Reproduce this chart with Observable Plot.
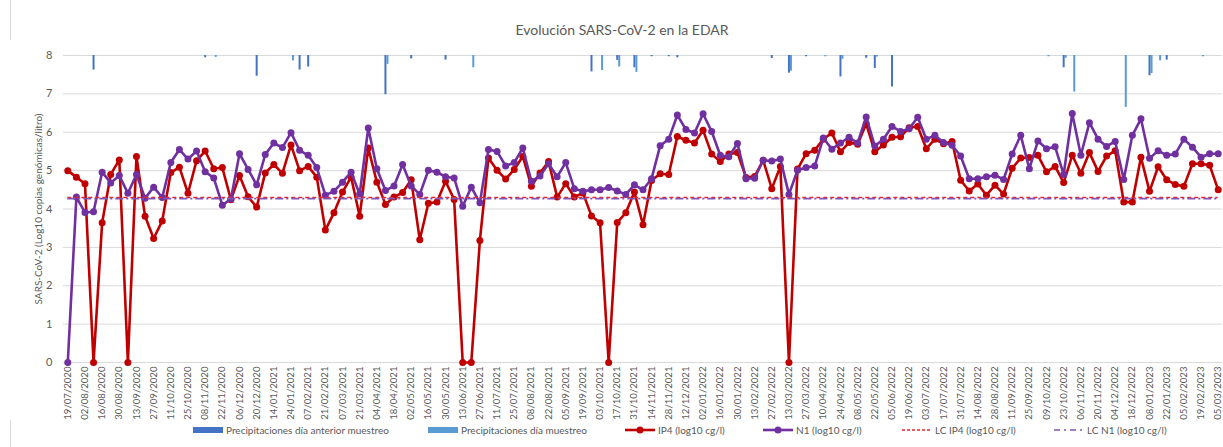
<!DOCTYPE html>
<html>
<head>
<meta charset="utf-8">
<script src="https://cdn.jsdelivr.net/npm/d3@7"></script>
<script src="https://cdn.jsdelivr.net/npm/@observablehq/plot@0.6"></script>
<style>
  html, body { margin: 0; padding: 0; background: #fff; }
  #wrap { position: relative; width: 1223px; height: 447px; overflow: hidden; font-family: Lato, "Open Sans", sans-serif; color: #595959; }
  #title { position: absolute; top: 21px; left: 0; width: 1244px; text-align: center; font-size: 14px; }
  #chart { position: absolute; top: 40px; left: 0; }
  #border { position: absolute; left: 10px; top: 0; height: 447px; border-left: 1px solid #d9d9d9; }
  #legend { position: absolute; top: 422px; left: 0; width: 1223px; height: 18px; font-size: 10px; }
  .item { position: absolute; top: 0; display: flex; align-items: center; height: 16px; white-space: nowrap; }
  .item svg { margin-right: 3px; }
</style>
</head>
<body>
<div id="wrap">
  <div id="border"></div>
  <div id="title">Evolución SARS-CoV-2 en la EDAR</div>
  <div id="chart"></div>
  <div id="legend"></div>
</div>
<script>
// Sampling dates (category axis)
const dates = [
  "19/07/2020","26/07/2020","02/08/2020","09/08/2020","16/08/2020","23/08/2020","30/08/2020","06/09/2020","13/09/2020","20/09/2020",
  "27/09/2020","04/10/2020","11/10/2020","18/10/2020","25/10/2020","01/11/2020","08/11/2020","15/11/2020","22/11/2020","29/11/2020",
  "06/12/2020","13/12/2020","20/12/2020","10/01/2021","14/01/2021","17/01/2021","24/01/2021","31/01/2021","07/02/2021","14/02/2021",
  "21/02/2021","28/02/2021","07/03/2021","14/03/2021","21/03/2021","28/03/2021","04/04/2021","11/04/2021","18/04/2021","25/04/2021",
  "02/05/2021","09/05/2021","16/05/2021","23/05/2021","30/05/2021","06/06/2021","13/06/2021","20/06/2021","27/06/2021","04/07/2021",
  "11/07/2021","18/07/2021","25/07/2021","01/08/2021","08/08/2021","15/08/2021","22/08/2021","29/08/2021","05/09/2021","12/09/2021",
  "19/09/2021","26/09/2021","03/10/2021","10/10/2021","17/10/2021","24/10/2021","31/10/2021","07/11/2021","14/11/2021","21/11/2021",
  "28/11/2021","05/12/2021","12/12/2021","19/12/2021","02/01/2022","09/01/2022","16/01/2022","23/01/2022","30/01/2022","06/02/2022",
  "13/02/2022","20/02/2022","27/02/2022","06/03/2022","13/03/2022","20/03/2022","27/03/2022","03/04/2022","10/04/2022","17/04/2022",
  "24/04/2022","01/05/2022","08/05/2022","15/05/2022","22/05/2022","29/05/2022","05/06/2022","12/06/2022","19/06/2022","26/06/2022",
  "03/07/2022","10/07/2022","17/07/2022","24/07/2022","31/07/2022","07/08/2022","14/08/2022","21/08/2022","28/08/2022","04/09/2022",
  "11/09/2022","18/09/2022","25/09/2022","02/10/2022","09/10/2022","16/10/2022","23/10/2022","30/10/2022","06/11/2022","13/11/2022",
  "20/11/2022","27/11/2022","04/12/2022","11/12/2022","18/12/2022","01/01/2023","08/01/2023","15/01/2023","22/01/2023","29/01/2023",
  "05/02/2023","12/02/2023","19/02/2023","26/02/2023","05/03/2023"
];

// IP4 (log10 cg/l)
const ip4 = [
  5.0,4.83,4.66,0,3.64,4.9,5.28,0,5.37,3.81,
  3.23,3.69,4.95,5.09,4.41,5.26,5.51,5.05,5.08,4.24,
  4.87,4.32,4.05,4.94,5.16,4.93,5.67,5.0,5.11,4.83,
  3.45,3.9,4.44,4.83,3.81,5.59,4.7,4.12,4.31,4.43,
  4.76,3.2,4.15,4.18,4.72,4.25,0,0,3.18,5.33,
  5.01,4.78,5.03,5.37,4.59,4.94,5.24,4.31,4.66,4.31,
  4.42,3.82,3.64,0,3.65,3.9,4.44,3.59,4.74,4.92,
  4.9,5.89,5.79,5.72,6.05,5.43,5.24,5.43,5.47,4.82,
  4.85,5.27,4.53,5.11,0,5.04,5.44,5.53,5.82,5.98,
  5.49,5.73,5.69,6.22,5.49,5.67,5.87,5.88,6.12,6.15,
  5.57,5.82,5.7,5.76,4.75,4.47,4.65,4.36,4.62,4.39,
  5.06,5.33,5.34,5.4,4.97,5.11,4.69,5.4,4.93,5.47,
  4.98,5.38,5.52,4.18,4.18,5.35,4.46,5.1,4.76,4.64,
  4.59,5.18,5.18,5.14,4.5
];

// N1 (log10 cg/l)
const n1 = [
  0,4.31,3.91,3.93,4.96,4.68,4.87,4.41,4.9,4.28,
  4.57,4.3,5.21,5.55,5.3,5.51,4.97,4.81,4.1,4.26,
  5.44,5.03,4.63,5.42,5.72,5.6,5.99,5.53,5.4,5.08,
  4.36,4.46,4.7,4.96,4.39,6.11,5.05,4.48,4.6,5.16,
  4.6,4.38,5.01,4.96,4.84,4.81,4.07,4.57,4.16,5.55,
  5.5,5.12,5.21,5.59,4.72,4.86,5.18,4.84,5.21,4.53,
  4.46,4.5,4.5,4.56,4.47,4.38,4.63,4.5,4.79,5.65,
  5.82,6.45,6.07,5.98,6.48,6.02,5.4,5.36,5.71,4.79,
  4.8,5.27,5.25,5.3,4.38,5.01,5.08,5.12,5.85,5.56,
  5.72,5.87,5.72,6.4,5.64,5.82,6.15,6.02,6.09,6.39,
  5.82,5.92,5.73,5.66,5.38,4.79,4.79,4.84,4.88,4.77,
  5.43,5.92,5.05,5.77,5.57,5.62,4.9,6.49,5.4,6.25,
  5.82,5.63,5.76,4.77,5.92,6.35,5.32,5.52,5.4,5.43,
  5.82,5.61,5.35,5.44,5.44
];

// Limits of quantification
const lcIp4 = 4.30;
const lcN1 = 4.27;

// Precipitation, day before sampling (mm)
const precipPrevDates = ["09/08/2020","08/11/2020","20/12/2020","31/01/2021","07/02/2021","11/04/2021","02/05/2021","30/05/2021",
  "26/09/2021","17/10/2021","31/10/2021","14/11/2021","28/11/2021","05/12/2021","27/02/2022","13/03/2022","27/03/2022",
  "24/04/2022","15/05/2022","22/05/2022","05/06/2022","23/10/2022","08/01/2023","22/01/2023"];
const precipPrevMm = [9.5,1.5,13.5,9.5,7.5,25.5,2.2,3,10.7,3.2,8,0.8,0.8,1.5,2,11.5,0.8,14,1.8,8.5,20.5,8,13.2,3];

// Precipitation, sampling day (mm)
const precipDayDates = ["15/11/2020","24/01/2021","11/04/2021","20/06/2021","03/10/2021","17/10/2021","31/10/2021","13/03/2022",
  "10/04/2022","24/04/2022","22/05/2022","09/10/2022","23/10/2022","30/10/2022","11/12/2022","08/01/2023","15/01/2023","19/02/2023"];
const precipDayMm = [1.2,3.5,5.8,8,9.8,7.5,11,10.2,0.8,2.5,1,0.8,1.8,23.8,33.8,11.8,3.5,0.8];

const yTicks = [0,1,2,3,4,5,6,7,8];
const xTickLabels = dates.filter((d, i) => i % 2 === 0);
const yLabel = "SARS-CoV-2 (Log10 copias genómicas/litro)";

const C = { ip4: "#C00000", n1: "#7030A0", prev: "#4472C4", day: "#5B9BD5", lcIp4: "#E8262A", lcN1: "#8254B8" };
const mmPerUnit = 25; // precipitation axis: hanging from the top of the chart

const series = dates.map((d, i) => ({ date: d, ip4: ip4[i], n1: n1[i] }));
const prev = precipPrevDates.map((d, i) => ({ date: d, mm: precipPrevMm[i] }));
const day = precipDayDates.map((d, i) => ({ date: d, mm: precipDayMm[i] }));
const yTop = d3.max(yTicks);

const chart = Plot.plot({
  width: 1223,
  height: 380,
  marginTop: 15,
  marginBottom: 58,
  marginLeft: 63,
  marginRight: 1,
  style: { fontFamily: "Lato, 'Open Sans', sans-serif", fontSize: "10px", color: "#595959", background: "#fff", overflow: "visible" },
  x: { type: "point", domain: dates, padding: 0.5 },
  y: { domain: [0, yTop] },
  marks: [
    Plot.gridY(yTicks, { stroke: "#d9d9d9", strokeOpacity: 1, strokeWidth: 1 }),
    Plot.axisY(yTicks, { tickSize: 0, tickPadding: 11, label: null, fontSize: 11 }),
    Plot.axisX(xTickLabels, { tickSize: 0, tickPadding: 4, tickRotate: -90, label: null, fontSize: 9.6 }),
    Plot.text([yLabel], { frameAnchor: "left", textAnchor: "middle", rotate: -90, dx: -25, fontSize: 10, fill: "#595959" }),
    Plot.ruleX(prev, { x: "date", y1: yTop, y2: d => yTop - d.mm / mmPerUnit, stroke: C.prev, strokeWidth: 2 }),
    Plot.ruleX(day, { x: "date", y1: yTop, y2: d => yTop - d.mm / mmPerUnit, stroke: C.day, strokeWidth: 2, dx: 2 }),
    Plot.line(series, { x: "date", y: "ip4", stroke: C.ip4, strokeWidth: 2.6, curve: "linear" }),
    Plot.dot(series, { x: "date", y: "ip4", r: 3.5, fill: C.ip4, stroke: "none" }),
    Plot.line(series, { x: "date", y: "n1", stroke: C.n1, strokeWidth: 2.6, curve: "linear" }),
    Plot.dot(series, { x: "date", y: "n1", r: 3.5, fill: C.n1, stroke: "none" }),
    Plot.ruleY([lcIp4], { y: d => d, x1: () => dates[0], x2: () => dates[dates.length - 1], stroke: C.lcIp4, strokeWidth: 1.6, strokeDasharray: "4,3" }),
    Plot.ruleY([lcN1], { y: d => d, x1: () => dates[0], x2: () => dates[dates.length - 1], stroke: C.lcN1, strokeWidth: 1.6, strokeDasharray: "8,3,2,3" })
  ]
});
document.getElementById("chart").appendChild(chart);

// Legend
const legendItems = [
  { left: 193, label: "Precipitaciones día anterior muestreo", kind: "bar", color: C.prev },
  { left: 428, label: "Precipitaciones día muestreo", kind: "bar", color: C.day },
  { left: 625, label: "IP4 (log10 cg/l)", kind: "line", color: C.ip4 },
  { left: 763, label: "N1 (log10 cg/l)", kind: "line", color: C.n1 },
  { left: 902, label: "LC IP4 (log10 cg/l)", kind: "dash", color: C.lcIp4 },
  { left: 1054, label: "LC N1 (log10 cg/l)", kind: "dashdot", color: C.lcN1 }
];
const legend = document.getElementById("legend");
for (const it of legendItems) {
  const div = document.createElement("div");
  div.className = "item";
  div.style.left = it.left + "px";
  let sw = "";
  if (it.kind === "bar") sw = `<rect x="0" y="5" width="30" height="6" fill="${it.color}"/>`;
  else if (it.kind === "line") sw = `<line x1="0" x2="30" y1="8" y2="8" stroke="${it.color}" stroke-width="2.6"/><circle cx="15" cy="8" r="3.5" fill="${it.color}"/>`;
  else if (it.kind === "dash") sw = `<line x1="0" x2="30" y1="8" y2="8" stroke="${it.color}" stroke-width="1.6" stroke-dasharray="3,2"/>`;
  else sw = `<line x1="0" x2="30" y1="8" y2="8" stroke="${it.color}" stroke-width="1.6" stroke-dasharray="6,4,2,4"/>`;
  div.innerHTML = `<svg width="30" height="16">${sw}</svg><span>${it.label}</span>`;
  legend.appendChild(div);
}
</script>
</body>
</html>
